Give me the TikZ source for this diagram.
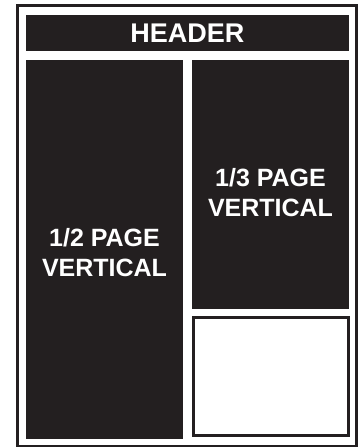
\documentclass[tikz,border=0pt]{standalone}
\usepackage{fontspec}
\setmainfont{Liberation Sans}
\definecolor{ink}{HTML}{231F20}
\begin{document}
\begin{tikzpicture}[x=1pt,y=-1pt,
  block/.style={fill=ink,draw=none},
  lbl/.style={text=white,font=\bfseries\fontsize{25}{30}\selectfont,align=center,inner sep=0pt},
  hlbl/.style={lbl,font=\bfseries\fontsize{27}{30}\selectfont}]
\useasboundingbox (0,0) rectangle (360,447);
\fill[white] (0,0) rectangle (360,447);
\draw[ink,line width=3pt] (17.5,5.5) rectangle (356,446);
\path[block] (26,15) rectangle (349,51);
\node[hlbl] (header) at (187.5,33) {HEADER};
\path[block] (26,60) rectangle (183,439);
\node[lbl] (half) at (104.5,253) {1/2 PAGE\\VERTICAL};
\path[block] (192,60) rectangle (349,309);
\node[lbl] (third) at (270.5,193) {1/3 PAGE\\VERTICAL};
\draw[ink,line width=3pt] (193.5,317.5) rectangle (348.5,435.5);
\end{tikzpicture}
\end{document}
